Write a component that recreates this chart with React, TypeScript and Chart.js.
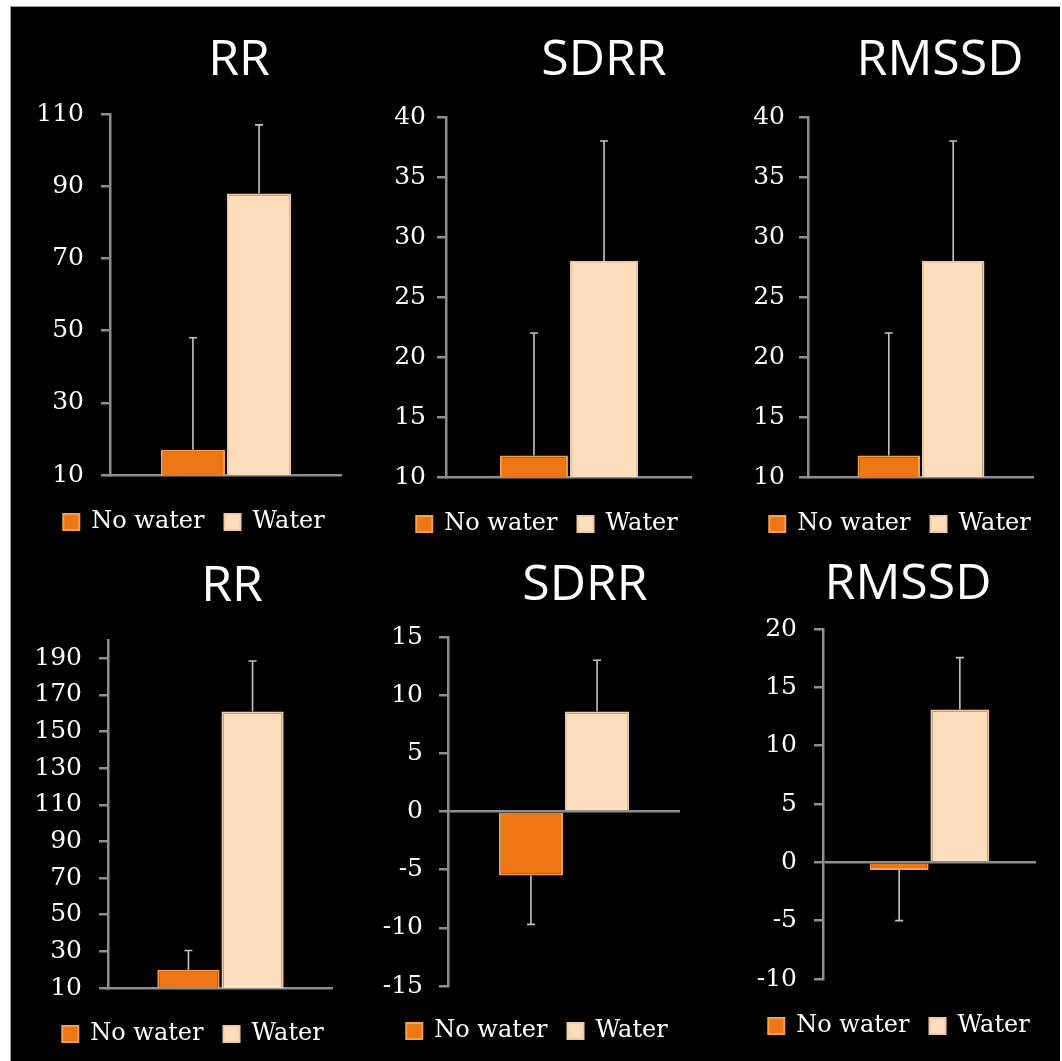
import React, { useEffect, useRef } from "react";
import { Chart, registerables } from "chart.js";

Chart.register(...registerables);

// ---------- data ----------
const seriesNames = ["No water", "Water"];
const categories = [""];
const panelTitles = ["RR", "SDRR", "RMSSD", "RR", "SDRR", "RMSSD"];

const rrTopMeans = [17, 88];
const rrTopErrors = [31, 19];
const sdrrTopMeans = [11.8, 28];
const sdrrTopErrors = [10.2, 10];
const rmssdTopMeans = [11.8, 28];
const rmssdTopErrors = [10.2, 10];
const rrBottomMeans = [20, 161];
const rrBottomErrors = [10.5, 27.5];
const sdrrBottomMeans = [-5.5, 8.6];
const sdrrBottomErrors = [4.2, 4.4];
const rmssdBottomMeans = [-0.65, 13.1];
const rmssdBottomErrors = [4.35, 4.45];

const rrTopTicks = [10, 30, 50, 70, 90, 110];
const sdrrTopTicks = [10, 15, 20, 25, 30, 35, 40];
const rmssdTopTicks = [10, 15, 20, 25, 30, 35, 40];
const rrBottomTicks = [10, 30, 50, 70, 90, 110, 130, 150, 170, 190];
const sdrrBottomTicks = [-15, -10, -5, 0, 5, 10, 15];
const rmssdBottomTicks = [-10, -5, 0, 5, 10, 15, 20];

const rrTopRange = [10, 110];
const sdrrTopRange = [10, 40];
const rmssdTopRange = [10, 40];
const rrBottomRange = [10, 200];
const sdrrBottomRange = [-15, 15];
const rmssdBottomRange = [-10, 20];

// ---------- layout / style ----------
const GREY = "#8e8e8e";
const ERR = "#c4c4c4";
const FILLS = ["#EC7714", "#FDDDBC"];
const BORDERS = ["#F6A04C", "#F2CBA6"];
const LEGEND_PAD = 20;
const LEGEND_FONT = 24;
const TICK_FONT = 25;
const TITLE_FONT = 50;

type Panel = {
  title: string;
  means: number[];
  errors: number[];
  ticks: number[];
  range: number[];
  zeroLine: boolean;
  chartL: number;
  chartR: number;
  chartT: number;
  chartB: number;
  legendC: number;
  legendY: number;
  titleX: number;
  titleY: number;
  canvasL: number;
  labelGap: number;
};

const PANELS: Panel[] = [
  { title: panelTitles[0], means: rrTopMeans, errors: rrTopErrors, ticks: rrTopTicks, range: rrTopRange, zeroLine: false,
    chartL: 110, chartR: 342, chartT: 114, chartB: 475, legendC: 194, legendY: 522, titleX: 239, titleY: 58, canvasL: 14, labelGap: 17 },
  { title: panelTitles[1], means: sdrrTopMeans, errors: sdrrTopErrors, ticks: sdrrTopTicks, range: sdrrTopRange, zeroLine: false,
    chartL: 446, chartR: 692, chartT: 117, chartB: 477, legendC: 547, legendY: 524, titleX: 604, titleY: 58, canvasL: 362, labelGap: 11 },
  { title: panelTitles[2], means: rmssdTopMeans, errors: rmssdTopErrors, ticks: rmssdTopTicks, range: rmssdTopRange, zeroLine: false,
    chartL: 808, chartR: 1034, chartT: 117, chartB: 477, legendC: 900, legendY: 524, titleX: 940, titleY: 58, canvasL: 712, labelGap: 14 },
  { title: panelTitles[3], means: rrBottomMeans, errors: rrBottomErrors, ticks: rrBottomTicks, range: rrBottomRange, zeroLine: false,
    chartL: 108, chartR: 333, chartT: 640, chartB: 988, legendC: 193, legendY: 1034, titleX: 232, titleY: 584, canvasL: 14, labelGap: 17 },
  { title: panelTitles[4], means: sdrrBottomMeans, errors: sdrrBottomErrors, ticks: sdrrBottomTicks, range: sdrrBottomRange, zeroLine: true,
    chartL: 448, chartR: 680, chartT: 637, chartB: 986, legendC: 537, legendY: 1031, titleX: 585, titleY: 583, canvasL: 360, labelGap: 16 },
  { title: panelTitles[5], means: rmssdBottomMeans, errors: rmssdBottomErrors, ticks: rmssdBottomTicks, range: rmssdBottomRange, zeroLine: true,
    chartL: 823, chartR: 1036, chartT: 629, chartB: 979, legendC: 899, legendY: 1026, titleX: 908, titleY: 582, canvasL: 712, labelGap: 17 },
];

const errorBarPlugin = {
  id: "errorBars",
  afterDatasetsDraw(chart: any, _args: any, opts: any) {
    const { ctx } = chart;
    const yScale = chart.scales.y;
    const errors: number[] = opts.errors || [];
    chart.data.datasets.forEach((ds: any, di: number) => {
      const meta = chart.getDatasetMeta(di);
      meta.data.forEach((bar: any, idx: number) => {
        const v = ds.data[idx] as number;
        const e = errors[di] || 0;
        const end = v >= 0 ? v + e : v - e;
        const x = bar.x;
        const y0 = yScale.getPixelForValue(v);
        const y1 = yScale.getPixelForValue(end);
        ctx.save();
        ctx.strokeStyle = ERR;
        ctx.lineWidth = 1.6;
        ctx.beginPath();
        ctx.moveTo(x, y0);
        ctx.lineTo(x, y1);
        ctx.moveTo(x - 4, y1);
        ctx.lineTo(x + 4, y1);
        ctx.stroke();
        ctx.restore();
      });
    });
  },
};

// shifts the (bottom, full-width) legend horizontally after layout
const legendShiftPlugin = {
  id: "legendShift",
  afterLayout(chart: any, _args: any, opts: any) {
    const lg = chart.legend;
    if (!lg || !opts || !opts.dx) return;
    lg.left += opts.dx;
    lg.right += opts.dx;
  },
};

function BarPanel({ p }: { p: Panel }) {
  const ref = useRef<HTMLCanvasElement>(null);
  const padTop = 42;
  const top = p.chartT - padTop;
  const legendH = LEGEND_FONT + LEGEND_PAD + 10;
  const xh = Math.max(0, p.legendY - p.chartB - (LEGEND_PAD + LEGEND_FONT / 2));
  const height = p.chartB - top + xh + legendH;
  const yw = p.chartL - p.canvasL;
  const width = p.chartR - p.canvasL;
  const dx = p.legendC - (p.canvasL + p.chartR) / 2;

  useEffect(() => {
    if (!ref.current) return;
    const chart = new Chart(ref.current, {
      type: "bar",
      data: {
        labels: categories,
        datasets: seriesNames.map((name, i) => ({
          label: name,
          data: [p.means[i]],
          backgroundColor: FILLS[i],
          borderColor: BORDERS[i],
          borderWidth: 2,
          categoryPercentage: 0.57,
          barPercentage: 0.97,
        })),
      },
      options: {
        animation: false,
        responsive: false,
        events: [],
        layout: { padding: { left: 0, right: 0, top: padTop, bottom: 0 } },
        scales: {
          x: {
            type: "category",
            ticks: { display: false },
            grid: { display: false, drawTicks: false },
            border: { display: !p.zeroLine, color: GREY, width: 2.5 },
            afterFit: (s: any) => {
              s.height = xh;
            },
          },
          y: {
            type: "linear",
            min: p.range[0],
            max: p.range[1],
            afterBuildTicks: (s: any) => {
              s.ticks = p.ticks.map((v) => ({ value: v }));
            },
            afterFit: (s: any) => {
              s.width = yw;
            },
            ticks: {
              autoSkip: false,
              color: "#ffffff",
              padding: p.labelGap,
              font: { family: "DejaVu Serif", size: TICK_FONT },
            },
            grid: {
              drawOnChartArea: p.zeroLine,
              drawTicks: true,
              tickLength: 9,
              lineWidth: 2.5,
              color: (c: any) =>
                p.zeroLine && c.tick && c.tick.value === 0 ? GREY : "rgba(0,0,0,0)",
              tickColor: GREY,
            },
            border: { display: true, color: GREY, width: 2.5 },
          },
        },
        plugins: {
          title: { display: false },
          tooltip: { enabled: false },
          legend: {
            display: true,
            position: "bottom",
            labels: {
              color: "#ffffff",
              boxWidth: 16,
              boxHeight: 16,
              padding: LEGEND_PAD,
              font: { family: "DejaVu Serif", size: LEGEND_FONT },
            },
          },
          errorBars: { errors: p.errors },
          legendShift: { dx },
        } as any,
      },
      plugins: [errorBarPlugin, legendShiftPlugin],
    });
    return () => chart.destroy();
  }, []);

  return (
    <>
      <div
        style={{
          position: "absolute",
          left: p.titleX - 150,
          width: 300,
          top: p.titleY - Math.round(TITLE_FONT * 0.531),
          textAlign: "center",
          fontFamily: '"Open Sans", sans-serif',
          fontSize: TITLE_FONT,
          lineHeight: `${TITLE_FONT}px`,
          color: "#ffffff",
        }}
      >
        {p.title}
      </div>
      <canvas
        ref={ref}
        width={width}
        height={height}
        style={{ position: "absolute", left: p.canvasL, top, width, height }}
      />
    </>
  );
}

export default function App() {
  return (
    <div
      style={{
        position: "absolute",
        left: 0,
        top: 0,
        width: 1062,
        height: 1061,
        background: "#ffffff",
        overflow: "hidden",
      }}
    >
      <div
        style={{
          position: "absolute",
          left: 10,
          top: 6,
          width: 1050,
          height: 1055,
          background: "#000000",
          borderLeft: "1px solid #9a9a9a",
          borderTop: "1px solid #9a9a9a",
          boxSizing: "border-box",
        }}
      />
      {PANELS.map((p, i) => (
        <BarPanel key={i} p={p} />
      ))}
    </div>
  );
}
